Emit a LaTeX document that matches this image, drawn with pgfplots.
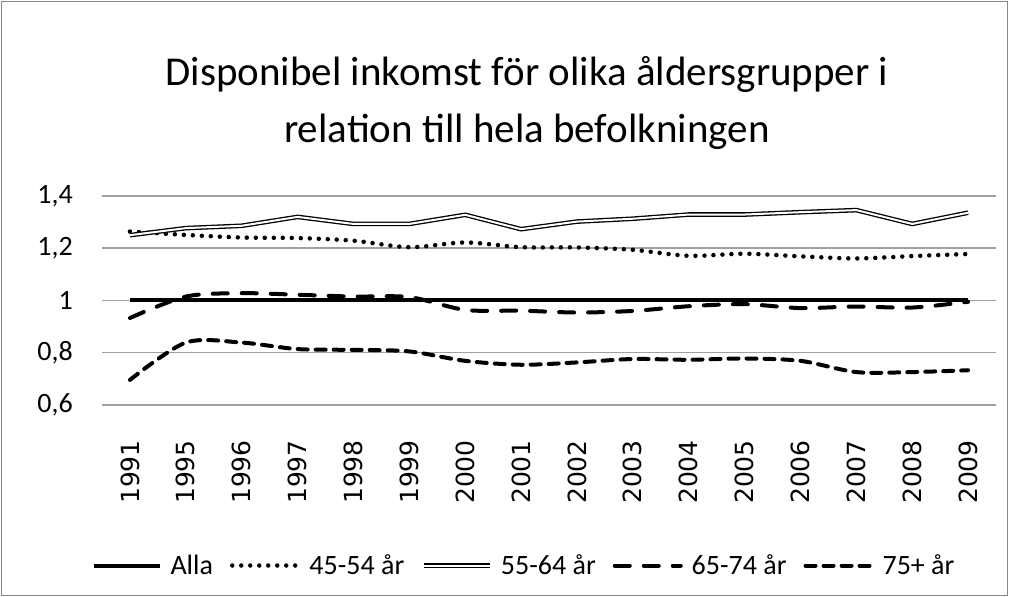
\documentclass[border=0pt]{standalone}
\usepackage{fontspec}
\setmainfont{Carlito}
\newfontfamily\dejavu{DejaVu Sans}
\usepackage{pgfplots}
\pgfplotsset{compat=1.18}
\definecolor{gridgray}{RGB}{160,160,160}
\definecolor{bordergray}{RGB}{134,134,134}
\begin{document}
\begin{tikzpicture}[x=1bp,y=1bp]
\useasboundingbox (0,0) rectangle (1009,597);
\draw[bordergray, line width=1.5bp] (1.5,1.5) rectangle (1007.5,595.5);
\node[align=center, font=\fontsize{41bp}{57bp}\selectfont] at (527,494) {Disponibel inkomst för olika åldersgrupper i\\relation till hela befolkningen};
\begin{axis}[
  at={(102bp,192bp)}, anchor=south west,
  scale only axis, width=894bp, height=209bp,
  xmin=-0.5, xmax=15.5, ymin=0.6, ymax=1.4,
  xtick={0,...,15},
  xticklabels={1991,1995,1996,1997,1998,1999,2000,2001,2002,2003,2004,2005,2006,2007,2008,2009},
  ytick={0.6,0.8,1,1.2,1.4},
  yticklabels={{0,6},{0,8},1,{1,2},{1,4}},
  axis line style={draw=none},
  major tick length=0pt,
  tick style={draw=none},
  ymajorgrids,
  grid style={gridgray, line width=1.5bp},
  xticklabel style={font=\dejavu\fontsize{25bp}{30bp}\selectfont, rotate=90, anchor=east, inner sep=0pt},
  xticklabel shift=35bp,
  yticklabel style={font=\fontsize{28bp}{34bp}\selectfont, anchor=east, inner sep=0pt},
  yticklabel shift=29bp,
  legend columns=5,
  legend style={draw=none, fill=none, at={(0.472,-0.768)}, anchor=center,
    font=\fontsize{28bp}{34bp}\selectfont,
    /tikz/every odd column/.append style={column sep=7bp},
    /tikz/every even column/.append style={column sep=15bp}},
  legend image code/.code={\draw[#1] (0bp,0bp) -- (66bp,0bp);},
]
\addplot[black, line width=4bp] coordinates {(0,1) (1,1) (2,1) (3,1) (4,1) (5,1) (6,1) (7,1) (8,1) (9,1) (10,1) (11,1) (12,1) (13,1) (14,1) (15,1)};
\addlegendentry{Alla}
\addplot[black, line width=4.5bp, line cap=round, dash pattern=on 0bp off 9bp, smooth] coordinates {(0,1.264) (1,1.251) (2,1.241) (3,1.239) (4,1.229) (5,1.204) (6,1.222) (7,1.204) (8,1.203) (9,1.194) (10,1.171) (11,1.179) (12,1.169) (13,1.161) (14,1.170) (15,1.178)};
\addlegendentry{45-54 år}
\addplot[black, line width=1.3bp, double=white, double distance=2bp] coordinates {(0,1.250) (1,1.277) (2,1.286) (3,1.320) (4,1.293) (5,1.293) (6,1.328) (7,1.273) (8,1.302) (9,1.313) (10,1.329) (11,1.329) (12,1.338) (13,1.346) (14,1.293) (15,1.336)};
\addlegendentry{55-64 år}
\addplot[black, line width=4bp, line cap=round, dash pattern=on 15bp off 14bp, smooth] coordinates {(0,0.933) (1,1.015) (2,1.028) (3,1.022) (4,1.015) (5,1.013) (6,0.964) (7,0.961) (8,0.954) (9,0.960) (10,0.978) (11,0.986) (12,0.971) (13,0.977) (14,0.973) (15,0.995)};
\addlegendentry{65-74 år}
\addplot[black, line width=4bp, line cap=round, dash pattern=on 10bp off 8bp, smooth] coordinates {(0,0.696) (1,0.839) (2,0.839) (3,0.814) (4,0.811) (5,0.805) (6,0.769) (7,0.754) (8,0.763) (9,0.776) (10,0.773) (11,0.778) (12,0.769) (13,0.726) (14,0.726) (15,0.733)};
\addlegendentry{75+ år}
\end{axis}
\end{tikzpicture}
\end{document}
